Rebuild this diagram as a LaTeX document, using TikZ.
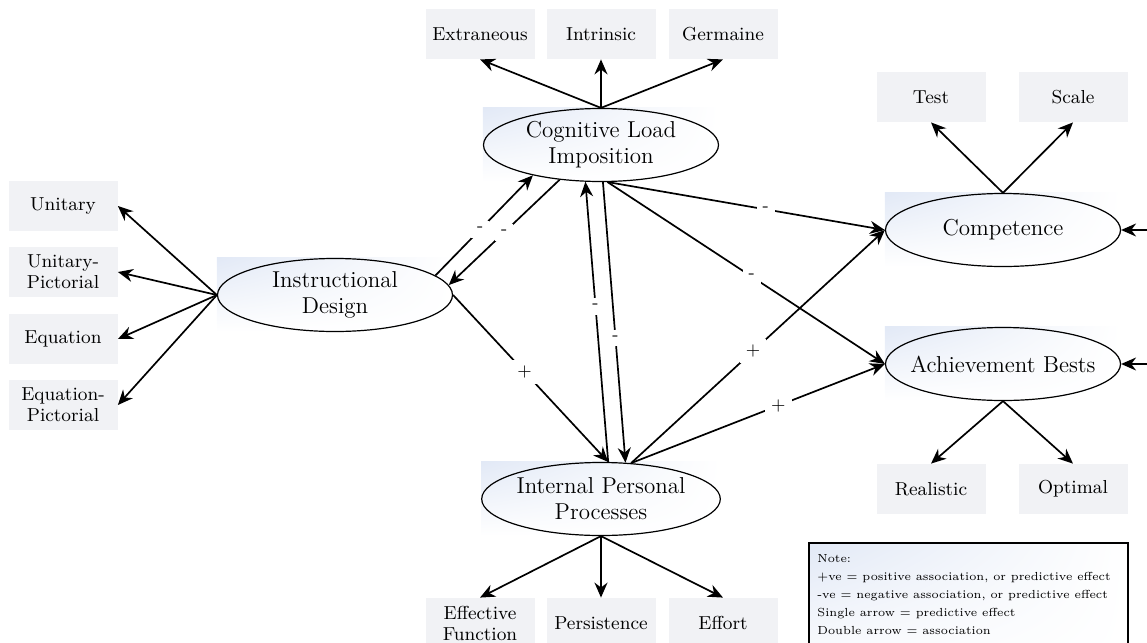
\documentclass[tikz,border=0pt]{standalone}
\usepackage{fontspec}
\usepackage{tikz}
\usetikzlibrary{shapes.geometric,arrows.meta,backgrounds,shadings}
\definecolor{boxgray}{RGB}{241,242,245}
\definecolor{glowblue}{RGB}{226,233,246}

\begin{document}
\begin{tikzpicture}[
  x=0.5pt,y=-0.5pt,
  latent/.style={ellipse,draw,line width=0.6pt,minimum width=117.5pt,minimum height=36.5pt,inner sep=0pt,align=center,font=\fontsize{11.5}{13}\selectfont},
  indicator/.style={fill=boxgray,minimum width=54.5pt,minimum height=25pt,inner sep=0pt,align=center,font=\fontsize{9.4}{10.5}\selectfont},
  ]
  \tikzset{%
    link/.style={
      -{Stealth[length=7.5pt,width=6.5pt]},
      line width=0.85pt,
    },
    in place/.style={
      auto=false,
      fill=white,
      inner sep=3pt,
      font=\sffamily\fontsize{9}{10}\selectfont,
    },
    glow/.style={
      upper left=glowblue,upper right=white,
      lower left=white,lower right=white,
    },
  }
  \useasboundingbox (0,0) rectangle (1147,643);
  \clip (0,0) rectangle (1147,643);
  %Latent nodes
  \node[latent](cl) at (601,145) {Cognitive Load\\Imposition};
  \node[latent](id) at (335,295) {Instructional\\Design};
  \node[latent](ipp) at (601,499) {Internal Personal\\Processes};
  \node[latent](comp) at (1003,230) {Competence};
  \node[latent,inner xsep=-5pt](ach) at (1003,364) {Achievement Bests};
  %Indicators
  \node[indicator](ext) at (480,34) {Extraneous};
  \node[indicator](intr) at (601,34) {Intrinsic};
  \node[indicator](germ) at (723,34) {Germaine};
  \node[indicator](uni) at (63,206) {Unitary};
  \node[indicator](unipic) at (63,272) {Unitary-\\Pictorial};
  \node[indicator](equ) at (63,339) {Equation};
  \node[indicator](equpic) at (63,405) {Equation-\\Pictorial};
  \node[indicator](tst) at (931,97) {Test};
  \node[indicator](scl) at (1073,97) {Scale};
  \node[indicator](real) at (931,489) {Realistic};
  \node[indicator](opt) at (1073,489) {Optimal};
  \node[indicator](eff) at (480,623) {Effective\\Function};
  \node[indicator](pers) at (601,623) {Persistence};
  \node[indicator](effort) at (723,623) {Effort};
  \coordinate (cin) at (1170,230);
  \coordinate (ain) at (1170,364);
  %Shading behind the ellipses
  \begin{scope}[on background layer]
    \foreach \n in {cl,id,ipp,comp,ach}
      \shade[glow] (\n.west |- \n.north) rectangle (\n.east |- \n.south);
  \end{scope}
  %Note
  \shadedraw[glow,line width=1pt] (809,543) rectangle (1128,680);
  \node[anchor=north west,align=left,inner sep=0pt,scale=0.92,transform shape,font=\fontsize{6.35}{9.8}\selectfont](note) at (817,554)
    {Note:\\+ve = positive association, or predictive effect\\-ve = negative association, or predictive effect\\Single arrow = predictive effect\\Double arrow = association};
  %Lines
  \draw
    % Indicators
    (cl.north) edge[link] (ext.south)
    (cl.north) edge[link] (intr.south)
    (cl.north) edge[link] (germ.south)
    (id.west) edge[link] (uni.east)
    (id.west) edge[link] (unipic.east)
    (id.west) edge[link] (equ.east)
    (id.west) edge[link] (equpic.east)
    (comp.north) edge[link] (tst.south)
    (comp.north) edge[link] (scl.south)
    (ach.south) edge[link] (real.north)
    (ach.south) edge[link] (opt.north)
    (ipp.south) edge[link] (eff.north)
    (ipp.south) edge[link] (pers.north)
    (ipp.south) edge[link] (effort.north)
    (cin) edge[link] (comp.east)
    (ain) edge[link] (ach.east)
    % Paths
    (id.11) edge[link] node[in place,pos=.46]{-} (cl.204)
    (cl.220) edge[link] node[in place,pos=.5]{-} (id.5)
    (ipp.79) edge[link] node[in place,pos=.555]{-} (cl.247)
    (cl.273) edge[link] node[in place,pos=.555]{-} (ipp.56)
    (id.east) edge[link] node[in place,pos=.46]{+} (ipp.79)
    (cl.280) edge[link] node[in place,pos=.57]{-} (comp.west)
    (cl.280) edge[link] node[in place,pos=.52]{-} (ach.west)
    (ipp.50) edge[link] node[in place,pos=.48]{+} (comp.west)
    (ipp.50) edge[link] node[in place,pos=.58]{+} (ach.west)
    ;
\end{tikzpicture}
\end{document}
